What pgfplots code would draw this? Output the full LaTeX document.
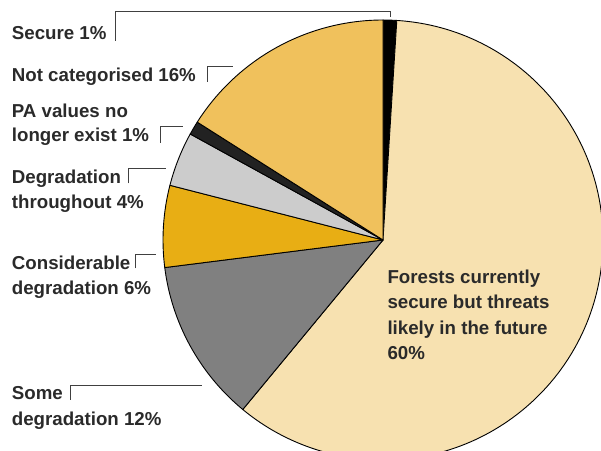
\documentclass[border=0pt]{standalone}
\usepackage{pgfplots}
\pgfplotsset{compat=1.18}
\usepackage{fontspec}
\setmainfont{Liberation Sans}
\definecolor{cSecure}{HTML}{000000}
\definecolor{cForest}{HTML}{F7E1B0}
\definecolor{cSome}{HTML}{808080}
\definecolor{cCons}{HTML}{E8AE14}
\definecolor{cThru}{HTML}{CCCCCC}
\definecolor{cPA}{HTML}{222222}
\definecolor{cNot}{HTML}{F0C15C}
\definecolor{txt}{HTML}{2A2A2A}
\definecolor{lead}{HTML}{404040}
\begin{document}
\begin{tikzpicture}[x=1bp,y=1bp]
\begin{axis}[hide axis, scale only axis, width=601bp, height=451bp,
  xmin=0, xmax=601, ymin=0, ymax=451, clip=true, at={(0,0)}, anchor=south west]
% pie: percentages clockwise from 12 o'clock
\xdef\start{90}
\foreach \p/\c in {1/cSecure,60/cForest,12/cSome,6/cCons,4/cThru,1/cPA,16/cNot}{
  \pgfmathsetmacro\e{\start-3.6*\p}
  \edef\tmp{\noexpand\fill[\c, draw=black, line width=0.9bp, line join=round] (axis cs:383,211) -- ++(\start:220bp) arc[start angle=\start, end angle=\e, radius=220bp] -- cycle;}
  \tmp
  \xdef\start{\e}
}
% leader lines
\draw[lead, line width=0.9bp] (axis cs:115.7,410.3) -- (axis cs:115.7,439.3) -- (axis cs:390,439.3) -- (axis cs:390,434);
\draw[lead, line width=0.9bp] (axis cs:207.7,369.3) -- (axis cs:207.7,384.3) -- (axis cs:233.3,384.3);
\draw[lead, line width=0.9bp] (axis cs:160.3,308.3) -- (axis cs:160.3,324.3) -- (axis cs:183.3,324.3);
\draw[lead, line width=0.9bp] (axis cs:128.7,267.7) -- (axis cs:128.7,282.7) -- (axis cs:165.7,282.7);
\draw[lead, line width=0.9bp] (axis cs:135.7,182.7) -- (axis cs:135.7,197) -- (axis cs:155.7,197);
\draw[lead, line width=0.9bp] (axis cs:70.3,51) -- (axis cs:70.3,66) -- (axis cs:201.7,66);
% labels
\tikzset{lab/.style={anchor=base west, inner sep=0pt, text=txt, font=\fontsize{18.7bp}{25bp}\selectfont\bfseries}}
\node[lab] at (axis cs:11.7,411.6) {Secure 1\%};
\node[lab] at (axis cs:11.7,369.3) {Not categorised 16\%};
\node[lab] at (axis cs:11.7,333.5) {PA values no};
\node[lab] at (axis cs:11.7,309) {longer exist 1\%};
\node[lab] at (axis cs:11.7,267.5) {Degradation};
\node[lab] at (axis cs:11.7,242.5) {throughout 4\%};
\node[lab] at (axis cs:11.7,181) {Considerable};
\node[lab] at (axis cs:11.7,156) {degradation 6\%};
\node[lab] at (axis cs:11.7,51) {Some};
\node[lab] at (axis cs:11.7,26) {degradation 12\%};
\node[lab] at (axis cs:387.3,167.5) {Forests currently};
\node[lab] at (axis cs:387.3,142) {secure but threats};
\node[lab] at (axis cs:387.3,116.5) {likely in the future};
\node[lab] at (axis cs:387.3,91) {60\%};
\end{axis}
\pgfresetboundingbox
\path[use as bounding box] (0,0) rectangle (601bp,451bp);
\end{tikzpicture}
\end{document}
